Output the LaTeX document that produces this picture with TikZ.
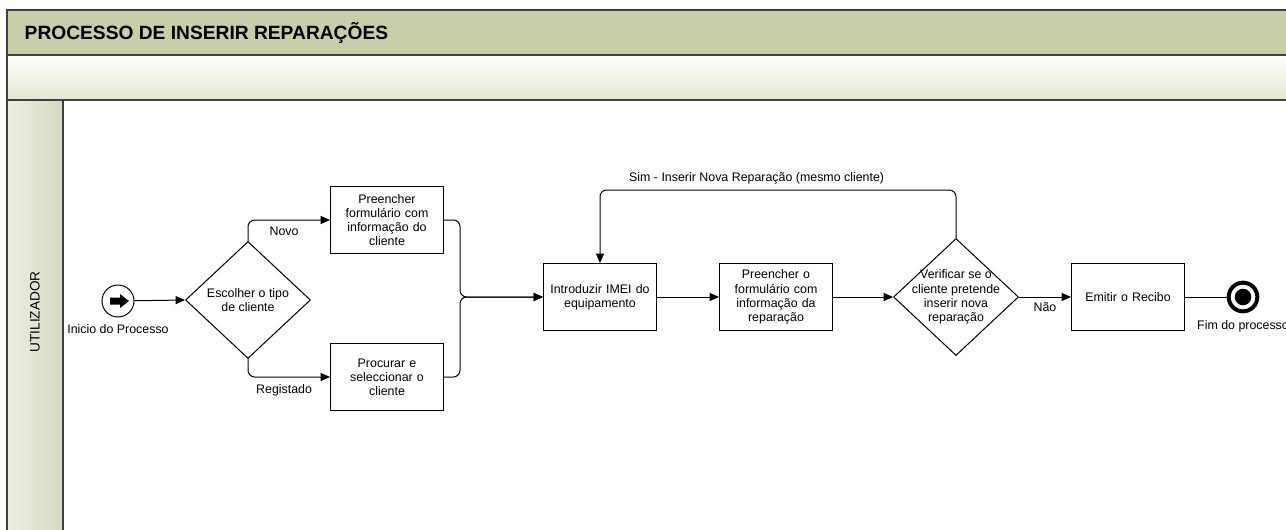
\documentclass[tikz,border=0pt]{standalone}
\usepackage{fontspec}
\setmainfont{Liberation Sans}
\usetikzlibrary{shapes.geometric, arrows.meta, positioning, calc}

\definecolor{bandolive}{RGB}{201,206,170}
\definecolor{bandlight}{RGB}{226,230,212}
\definecolor{lanehead}{RGB}{214,218,194}
\definecolor{framegrey}{RGB}{64,64,64}

\begin{document}
\begin{tikzpicture}[x=0.75pt, y=-0.75pt, >={Triangle[length=7pt, width=6pt]}]
    \tikzstyle{task}     = [rectangle, draw=black, line width=0.75pt, minimum width=84.75pt, minimum height=50.25pt, text width=80pt, align=center, inner sep=0pt, font=\fontsize{9.3}{10.6}\selectfont]
    \tikzstyle{decision} = [diamond, draw=black, line width=0.75pt, minimum width=93.75pt, minimum height=87.75pt, inner sep=0pt, fill=white]
    \tikzstyle{dtext}    = [align=center, inner sep=0pt, font=\fontsize{9.3}{10.6}\selectfont]
    \tikzstyle{flow}     = [line width=0.75pt, rounded corners=5]
    \tikzstyle{lbl}      = [font=\fontsize{9.3}{10.6}\selectfont, inner sep=2pt]

    \useasboundingbox (0,0) rectangle (1286,529);
    \clip (0,0) rectangle (1286,529);

    % pool and lane
    \fill [bandolive] (7,10) rectangle (1300,55);
    \shade [top color=white, bottom color=bandlight] (7,55) rectangle (1300,100);
    \shade [left color=lanehead!45!white, right color=lanehead] (7,100) rectangle (63,540);
    \draw [framegrey, line width=1.1pt] (7,540) -- (7,10) -- (1300,10);
    \draw [framegrey, line width=0.9pt] (7,55) -- (1300,55);
    \draw [framegrey, line width=0.9pt] (7,100) -- (1300,100);
    \draw [framegrey, line width=0.9pt] (63,100) -- (63,540);

    \node (title) [anchor=west, font=\bfseries\fontsize{14.4}{16}\selectfont] at (20,33) {PROCESSO DE INSERIR REPARAÇÕES};
    \node (lane)  [rotate=90, font=\fontsize{10.2}{12}\selectfont] at (35,312) {UTILIZADOR};

    % events
    \node (start) [circle, draw=black, line width=0.75pt, minimum size=24pt, inner sep=0pt,
        label={[lbl, yshift=-3pt]below:Inicio do Processo},
        path picture={\fill [black] ($(path picture bounding box.center)+(-8,-3.5)$) -- ++(10,0) -- ++(0,-3.5) -- ++(9,7) -- ++(-9,7) -- ++(0,-3.5) -- ++(-10,0) -- cycle;}] at (118,301) {};
    \node (finish) [circle, draw=black, line width=3pt, minimum size=21.5pt, inner sep=0pt,
        label={[lbl, yshift=-3pt]below:Fim do processo},
        path picture={\fill [black] (path picture bounding box.center) circle (6.2pt);}] at (1243,297) {};

    % decisions
    \node (choose) [decision, label={[dtext]center:Escolher o tipo\\de cliente}] at (248,300) {};
    \node (check)  [decision, label={[dtext]center:Verificar se o\\cliente pretende\\inserir nova\\reparação}] at (956,297) {};

    % tasks
    \node (newclient) [task] at (387,220) {Preencher\\formulário com\\informação do\\cliente};
    \node (search)    [task] at (387,377) {Procurar e\\seleccionar o\\cliente};
    \node (imei)      [task] at (600,297) {Introduzir IMEI do\\equipamento};
    \node (formrep)   [task] at (776,297) {Preencher o\\formulário com\\informação da\\reparação};
    \node (receipt)   [task] at (1128,297) {Emitir o Recibo};

    \coordinate (merge) at (460,297);
    \coordinate (loopturn) at (600,190);

    % connectors
    \draw [->, line width=0.75pt] (start) -- (choose.west);
    \draw [->, flow] (choose.north) |- node[lbl, below=3pt, pos=0.72] {Novo} (newclient.west);
    \draw [->, flow] (choose.south) |- node[lbl, below=3pt, pos=0.72] {Registado} (search.west);
    \draw [->, flow] (newclient.east) -| (merge) -- (imei.west);
    \draw [->, flow] (search.east) -| (merge) -- (imei.west);
    \draw [->, flow] (imei) -- (formrep);
    \draw [->, flow] (formrep) -- (check.west);
    \draw [->, flow] (check.north) |- node[lbl, above=2pt, pos=0.78] {Sim - Inserir Nova Reparação (mesmo cliente)} (loopturn) -- (imei.north);
    \draw [->, flow] (check.east) -- node[lbl, below=1.5pt] {Não} (receipt.west);
    \draw [flow] (receipt) -- (finish);
\end{tikzpicture}
\end{document}
